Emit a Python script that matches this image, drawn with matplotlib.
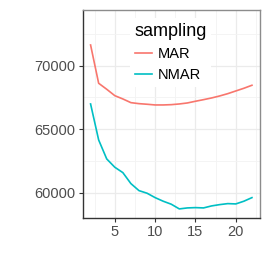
import matplotlib
matplotlib.use("Agg")
import matplotlib.pyplot as plt
import numpy as np

plt.rcParams['font.family'] = ['Liberation Sans', 'DejaVu Sans']

# DATA
k = list(range(2, 23))
mar = [71630, 68614, 68142, 67638, 67378, 67087, 67008, 66961, 66906, 66906,
       66929, 66984, 67063, 67197, 67323, 67457, 67614, 67795, 68008, 68220,
       68457]
nmar = [66984, 64150, 62654, 62000, 61575, 60709, 60157, 59953, 59606, 59323,
        59087, 58717, 58795, 58819, 58795, 58953, 59055, 59134, 59110, 59323,
        59606]
series = ["MAR", "NMAR"]
colors = ["#F8766D", "#00BFC4"]

fig = plt.figure(figsize=(2.7, 2.7), dpi=100)
ax = fig.add_axes([0.3056, 0.194, 0.6574, 0.769])

for name, vals, c in zip(series, [mar, nmar], colors):
    ax.plot(k, vals, color=c, lw=1.2, label=name, solid_joinstyle="round")

ax.set_xlim(1, 23)
ax.set_ylim(58031, 74386)
ax.set_xticks([5, 10, 15, 20])
ax.set_xticks([2.5, 7.5, 12.5, 17.5, 22.5], minor=True)
ax.set_yticks([60000, 65000, 70000])
ax.set_yticks([62500, 67500, 72500], minor=True)
ax.grid(True, which="major", color="#EBEBEB", lw=0.9)
ax.grid(True, which="minor", color="#F3F3F3", lw=0.6)
ax.set_axisbelow(True)

ax.tick_params(axis="both", which="major", length=3, width=0.8, color="#333333",
               labelsize=10.5, labelcolor="#4D4D4D", pad=2)
ax.tick_params(axis="both", which="minor", length=0)

for s in ["left", "bottom"]:
    ax.spines[s].set_color("#333333")
    ax.spines[s].set_linewidth(1.0)
for s in ["top", "right"]:
    ax.spines[s].set_color("#8C8C8C")
    ax.spines[s].set_linewidth(1.0)

leg = ax.legend(title="sampling", loc="upper left", bbox_to_anchor=(0.228, 0.995),
                fontsize=10.5, title_fontsize=13, frameon=True, fancybox=False,
                handlelength=1.2, handletextpad=0.35, labelspacing=0.5,
                borderpad=0.3, alignment="left")
leg.get_frame().set_facecolor("white")
leg.get_frame().set_edgecolor("none")
leg.get_frame().set_alpha(1)

fig.savefig("out.png", dpi=100)
